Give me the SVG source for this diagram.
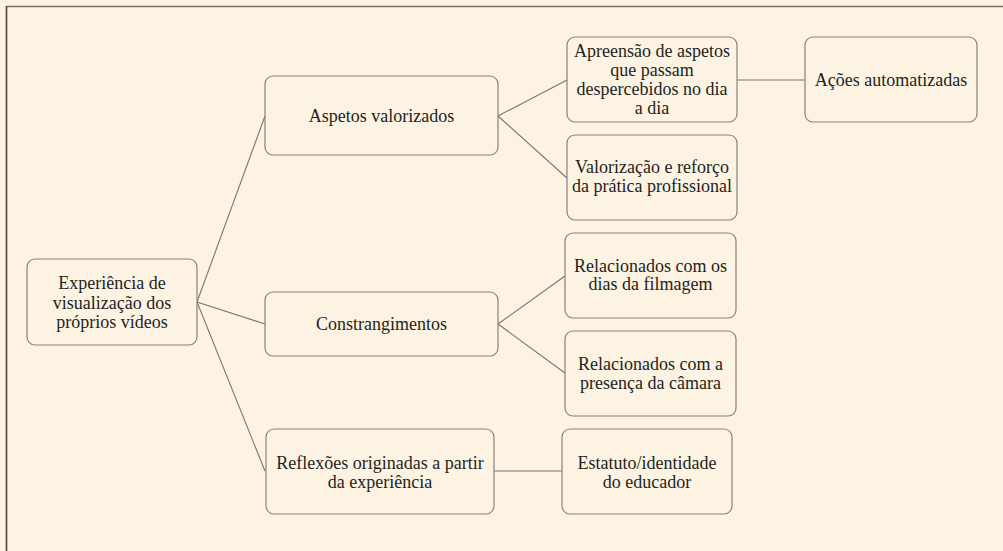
<svg xmlns="http://www.w3.org/2000/svg" width="1003" height="551" viewBox="0 0 1003 551">
<style>
.n rect{fill:#fdf3e3;stroke:#8c8079;stroke-width:1.2}
.n text{font-family:"Liberation Serif","Times New Roman",serif;font-size:18px;fill:#231f1c;text-anchor:middle}
#connectors line{stroke:#7f736b;stroke-width:1.1}
</style>
<rect x="0" y="0" width="1003" height="551" fill="#fdf3e3"/>
<line x1="6.5" y1="6.5" x2="1003" y2="6.5" stroke="#7d716a" stroke-width="1.3"/>
<line x1="6.5" y1="6" x2="6.5" y2="551" stroke="#4f423b" stroke-width="1.6"/>
<g id="connectors">
<line x1="197" y1="302" x2="265" y2="116"/>
<line x1="197" y1="302" x2="265" y2="324"/>
<line x1="197" y1="302" x2="265" y2="471"/>
<line x1="498" y1="116" x2="567" y2="80"/>
<line x1="498" y1="116" x2="567" y2="178"/>
<line x1="737" y1="80" x2="805" y2="80"/>
<line x1="498" y1="324" x2="565" y2="276"/>
<line x1="498" y1="324" x2="565" y2="373"/>
<line x1="494" y1="471" x2="562" y2="471"/>
</g>
<g id="root" class="n"><rect x="27" y="259" width="170" height="86" rx="8"/>
<text x="112" y="289">Experiência de</text><text x="112" y="308.5">visualização dos</text><text x="112" y="328">próprios vídeos</text></g>
<g id="aspetos" class="n"><rect x="265" y="76" width="233" height="79" rx="8"/>
<text x="381.5" y="122">Aspetos valorizados</text></g>
<g id="constrangimentos" class="n"><rect x="265" y="292" width="233" height="64" rx="8"/>
<text x="381.5" y="330">Constrangimentos</text></g>
<g id="reflexoes" class="n"><rect x="266" y="429" width="228" height="85" rx="8"/>
<text x="380" y="469">Reflexões originadas a partir</text><text x="380" y="488">da experiência</text></g>
<g id="apreensao" class="n"><rect x="567" y="37" width="170" height="85" rx="8"/>
<text x="652" y="57">Apreensão de aspetos</text><text x="652" y="76">que passam</text><text x="652" y="95">despercebidos no dia</text><text x="652" y="114">a dia</text></g>
<g id="valorizacao" class="n"><rect x="567" y="135" width="170" height="85" rx="8"/>
<text x="652" y="173">Valorização e reforço</text><text x="652" y="192">da prática profissional</text></g>
<g id="acoes" class="n"><rect x="805" y="37" width="172" height="85" rx="8"/>
<text x="891" y="86">Ações automatizadas</text></g>
<g id="filmagem" class="n"><rect x="565" y="233" width="171" height="85" rx="8"/>
<text x="650.5" y="272">Relacionados com os</text><text x="650.5" y="290">dias da filmagem</text></g>
<g id="camara" class="n"><rect x="565" y="331" width="171" height="85" rx="8"/>
<text x="650.5" y="370">Relacionados com a</text><text x="650.5" y="389">presença da câmara</text></g>
<g id="estatuto" class="n"><rect x="562" y="429" width="170" height="85" rx="8"/>
<text x="647" y="469">Estatuto/identidade</text><text x="647" y="488">do educador</text></g>
</svg>
